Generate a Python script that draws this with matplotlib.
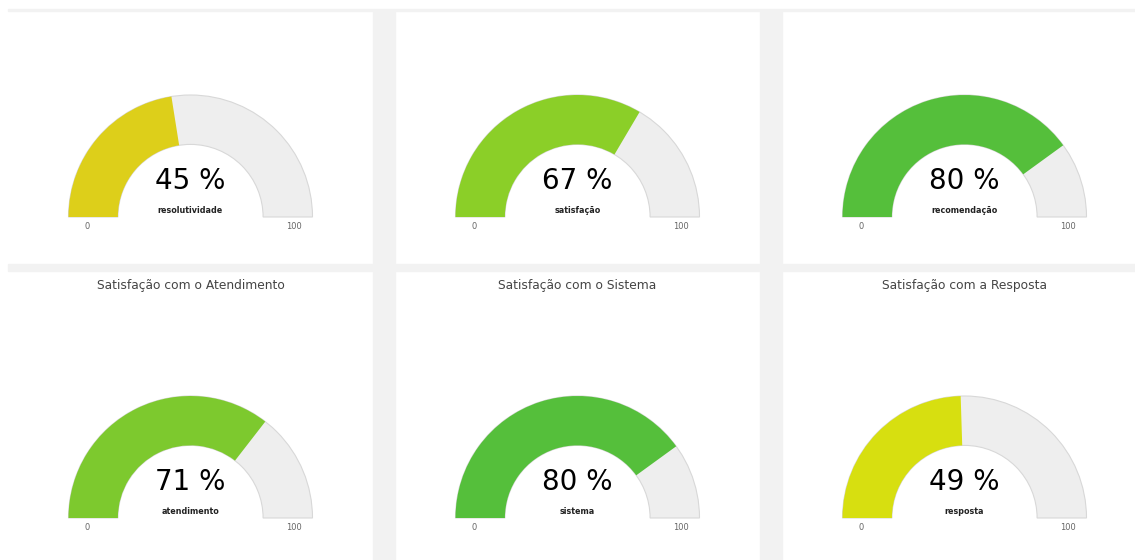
import numpy as np
import matplotlib.pyplot as plt
from matplotlib.patches import Wedge, Rectangle

# gauge values (percent)
values = [45, 67, 80, 71, 80, 49]
labels = ['resolutividade', 'satisfação', 'recomendação',
          'atendimento', 'sistema', 'resposta']
titles = ['', '', '',
          'Satisfação com o Atendimento', 'Satisfação com o Sistema',
          'Satisfação com a Resposta']
colors = ['#DDCF1A', '#8BCF28', '#55BF3B', '#7DC92E', '#55BF3B', '#D7DF10']
vmin, vmax = 0, 100

W, H = 1135, 560
fig = plt.figure(figsize=(W / 100, H / 100), dpi=100)
fig.patch.set_facecolor('white')

grey = '#F2F2F2'
# grey gutters between the panels (pixel coords, top-left origin)
for x0, y0, w, h in [(373, 10, 22, 550), (760, 10, 22, 550),
                     (8, 264, 1127, 7), (8, 9, 1127, 2)]:
    fig.patches.append(Rectangle((x0 / W, 1 - (y0 + h) / H), w / W, h / H,
                                 transform=fig.transFigure, color=grey, zorder=0))

# panels: left, top, width, height (px), gauge centre offset from left, baseline from bottom
panels = [(8, 11, 365, 253, 182.5, 47), (395, 11, 365, 253, 182.5, 47),
          (782, 11, 353, 253, 182.5, 47),
          (8, 271, 365, 289, 182.5, 42), (395, 271, 365, 289, 182.5, 42),
          (782, 271, 353, 289, 182.5, 42)]
R = 122.0  # outer radius in px
inner = 0.595

for i, (x0, y0, w, h, cx, cy) in enumerate(panels):
    ax = fig.add_axes([x0 / W, 1 - (y0 + h) / H, w / W, h / H])
    ax.set_xlim(-cx / R, (w - cx) / R)
    ax.set_ylim(-cy / R, (h - cy) / R)
    ax.axis('off')

    # background band
    ax.add_patch(Wedge((0, 0), 1, 0, 180, width=1 - inner,
                       facecolor='#EEEEEE', edgecolor='#D8D8D8', linewidth=0.8))
    # value band
    frac = (values[i] - vmin) / (vmax - vmin)
    ax.add_patch(Wedge((0, 0), 1, 180 - 180 * frac, 180, width=1 - inner,
                       facecolor=colors[i], edgecolor='none'))

    ax.text(0, 0.295, f'{values[i]} %', ha='center', va='center',
            fontsize=20, color='black')
    ax.text(0, 0.05, labels[i], ha='center', va='center',
            fontsize=5.8, fontweight='bold', color='#222222')
    ax.text(-0.85, -0.074, str(vmin), ha='center', va='center',
            fontsize=6, color='#666666')
    ax.text(0.85, -0.074, str(vmax), ha='center', va='center',
            fontsize=6, color='#666666')
    if titles[i]:
        ax.text(0, (h - cy - 14) / R, titles[i], ha='center', va='center',
                fontsize=8.8, color='#444444')

fig.savefig('out.png', dpi=100, facecolor=fig.get_facecolor())
